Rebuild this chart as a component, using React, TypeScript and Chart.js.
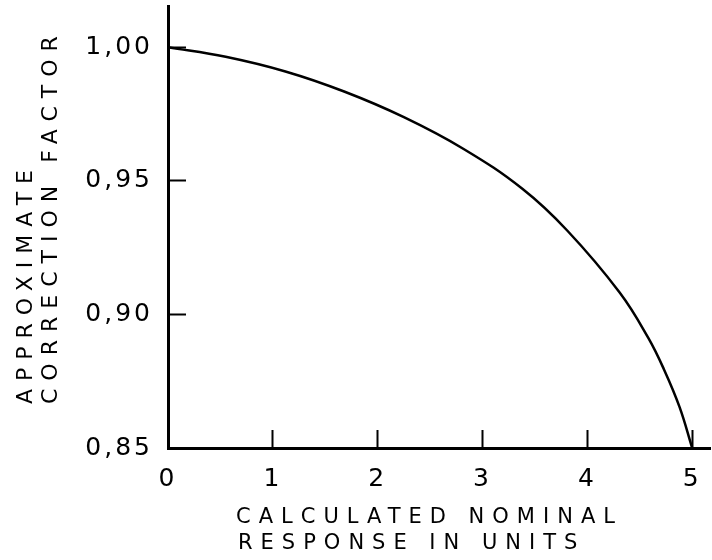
import { useEffect, useRef } from 'react';
import { Chart, registerables } from 'chart.js';

Chart.register(...registerables);

// Curve (x = calculated nominal response, y = correction factor)
const xValues = [0, 0.55, 1.12, 1.68, 2.25, 2.82, 3.38, 3.81, 4.31, 4.58, 4.73, 4.88, 5.0];
const yValues = [1.0, 0.9964, 0.9909, 0.9834, 0.9738, 0.9619, 0.947, 0.9313, 0.9081, 0.8913, 0.8795, 0.8653, 0.85];

const xTickValues = [0, 1, 2, 3, 4, 5];
const xTickLabels = ['0', '1', '2', '3', '4', '5'];
const yTickValues = [0.85, 0.9, 0.95, 1.0];
const yTickLabels = ['0,85', '0,90', '0,95', '1,00'];

const yTitleLines = ['APPROXIMATE', 'CORRECTION FACTOR'];
const xTitleLines = ['CALCULATED NOMINAL', 'RESPONSE IN UNITS'];

const FONT = '"DejaVu Sans", "Liberation Sans", sans-serif';

const handLettering = {
  id: 'handLettering',
  beforeDraw(chart: any) {
    chart.ctx.letterSpacing = '3px';
  },
  afterDraw(chart: any) {
    const { ctx, chartArea } = chart;
    ctx.save();
    ctx.letterSpacing = '8px';
    ctx.fillStyle = '#000';
    ctx.textAlign = 'left';
    ctx.textBaseline = 'middle';
    ctx.font = `22px ${FONT}`;
    yTitleLines.forEach((line, i) => {
      ctx.save();
      ctx.translate(chartArea.left - 142 + i * 25, chartArea.bottom - 44);
      ctx.rotate(-Math.PI / 2);
      ctx.fillText(line, 0, 0);
      ctx.restore();
    });
    ctx.font = `21px ${FONT}`;
    xTitleLines.forEach((line, i) => {
      ctx.fillText(line, chartArea.left + 68 + i * 2, chartArea.bottom + 70 + i * 26);
    });
    ctx.restore();
  },
};

export default function App() {
  const canvasRef = useRef<HTMLCanvasElement | null>(null);

  useEffect(() => {
    document.body.style.margin = '0';
    const canvas = canvasRef.current;
    if (!canvas) return;
    const gridOpts = {
      display: true,
      drawOnChartArea: false,
      drawTicks: true,
      tickLength: -18,
      tickWidth: 2,
      tickColor: '#000',
      color: '#000',
    };
    const chart = new Chart(canvas, {
      type: 'line',
      data: {
        datasets: [
          {
            data: xValues.map((x, i) => ({ x, y: yValues[i] })),
            borderColor: '#000',
            borderWidth: 2.5,
            pointRadius: 0,
            fill: false,
            tension: 0.4,
          },
        ],
      },
      options: {
        animation: false,
        responsive: false,
        devicePixelRatio: 1,
        layout: { padding: { top: 6, right: 2, left: 0, bottom: 0 } },
        plugins: { legend: { display: false }, tooltip: { enabled: false } },
        scales: {
          x: {
            type: 'linear',
            min: 0,
            max: 5.17,
            afterBuildTicks: (s: any) => {
              s.ticks = xTickValues.map((v) => ({ value: v }));
            },
            afterFit: (s: any) => {
              s.height = 112;
              s.paddingLeft = 0;
              s.paddingRight = 0;
            },
            grid: gridOpts,
            border: { display: true, color: '#000', width: 3 },
            ticks: {
              padding: 34,
              color: '#000',
              maxRotation: 0,
              autoSkip: false,
              font: { family: FONT, size: 25 },
              callback: (_v: any, i: number) => xTickLabels[i],
            },
            title: { display: false },
          },
          y: {
            type: 'linear',
            min: 0.85,
            max: 1.0154,
            afterBuildTicks: (s: any) => {
              s.ticks = yTickValues.map((v) => ({ value: v }));
            },
            afterFit: (s: any) => {
              s.width = 168;
              s.paddingTop = 0;
              s.paddingBottom = 0;
            },
            grid: gridOpts,
            border: { display: true, color: '#000', width: 3 },
            ticks: {
              padding: 33,
              color: '#000',
              autoSkip: false,
              font: { family: FONT, size: 25 },
              callback: (_v: any, i: number) => yTickLabels[i],
            },
            title: { display: false },
          },
        },
      } as any,
      plugins: [handLettering],
    });
    return () => chart.destroy();
  }, []);

  return (
    <div style={{ width: 712, height: 560, background: '#fff' }}>
      <canvas ref={canvasRef} width={712} height={560} style={{ display: 'block' }} />
    </div>
  );
}
